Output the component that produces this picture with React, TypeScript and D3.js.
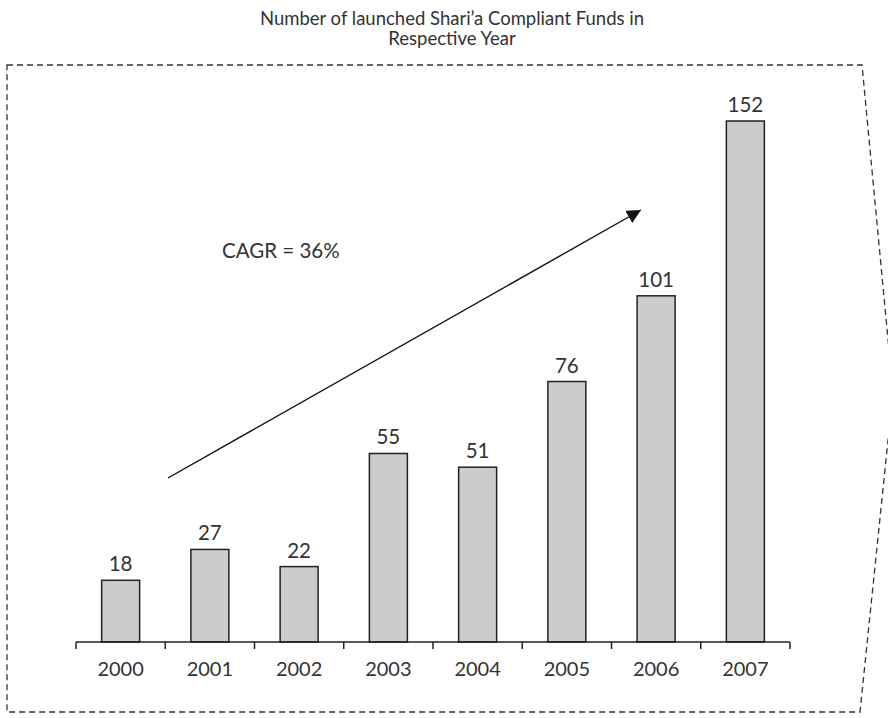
import React from "react";
import * as d3 from "d3";

const years = ["2000", "2001", "2002", "2003", "2004", "2005", "2006", "2007"];
const funds = [18, 27, 22, 55, 51, 76, 101, 152];
const titleLines = ["Number of launched Shari\u2019a Compliant Funds in", "Respective Year"];
const cagrLabel = "CAGR = 36%";

const W = 894;
const H = 718;
const FONT = "Lato, 'Noto Sans', sans-serif";

export default function App() {
  const x = d3.scaleBand<string>().domain(years).range([76, 790]).padding(0);
  const y = d3.scaleLinear().domain([0, 152]).range([642, 121]);
  const barW = 38;
  const baseY = y(0);

  const borderPts: [number, number][] = [
    [7, 65],
    [862, 65],
    [893, 392],
    [860, 712],
    [7, 712],
  ];
  const borderPath = d3.line()(borderPts) + "Z";

  const tickXs = [...years.map((yr) => x(yr) as number), 790];

  return (
    <svg width={W} height={H} style={{ position: "absolute", left: 0, top: 0, background: "#fff" }}>
      <defs>
        <clipPath id="clipR">
          <rect x={0} y={0} width={888} height={H} />
        </clipPath>
        <marker
          id="arrowHead"
          markerUnits="userSpaceOnUse"
          markerWidth={16}
          markerHeight={14}
          refX={14}
          refY={7}
          orient="auto"
        >
          <path d="M0,0 L14,7 L0,14 Z" fill="#111" />
        </marker>
      </defs>
      <rect x={0} y={0} width={W} height={H} fill="#fff" />
      {titleLines.map((t, i) => (
        <text
          key={i}
          x={452}
          y={25 + i * 20}
          textAnchor="middle"
          fontFamily={FONT}
          fontSize={18.5}
          fill="#333"
        >
          {t}
        </text>
      ))}
      <path
        d={borderPath}
        fill="none"
        stroke="#333"
        strokeWidth={1.3}
        strokeDasharray="6,4"
        clipPath="url(#clipR)"
      />
      {years.map((yr, i) => {
        const cx = (x(yr) as number) + x.bandwidth() / 2;
        return (
          <g key={yr}>
            <rect
              x={cx - barW / 2}
              y={y(funds[i])}
              width={barW}
              height={baseY - y(funds[i])}
              fill="#cccccc"
              stroke="#222"
              strokeWidth={1.5}
            />
            <text
              x={cx}
              y={y(funds[i]) - 9}
              textAnchor="middle"
              fontFamily={FONT}
              fontSize={20.5}
              fill="#333"
            >
              {funds[i]}
            </text>
            <text
              x={cx}
              y={676}
              textAnchor="middle"
              fontFamily={FONT}
              fontSize={20}
              fill="#333"
            >
              {yr}
            </text>
          </g>
        );
      })}
      <line x1={76} x2={790} y1={baseY} y2={baseY} stroke="#222" strokeWidth={1.5} />
      {tickXs.map((tx, i) => (
        <line key={i} x1={tx} x2={tx} y1={baseY} y2={baseY + 7} stroke="#222" strokeWidth={1.5} />
      ))}
      <line
        x1={168}
        y1={478}
        x2={641}
        y2={210}
        stroke="#111"
        strokeWidth={1.4}
        markerEnd="url(#arrowHead)"
      />
      <text x={222} y={258} fontFamily={FONT} fontSize={20.5} fill="#333">
        {cagrLabel}
      </text>
    </svg>
  );
}
